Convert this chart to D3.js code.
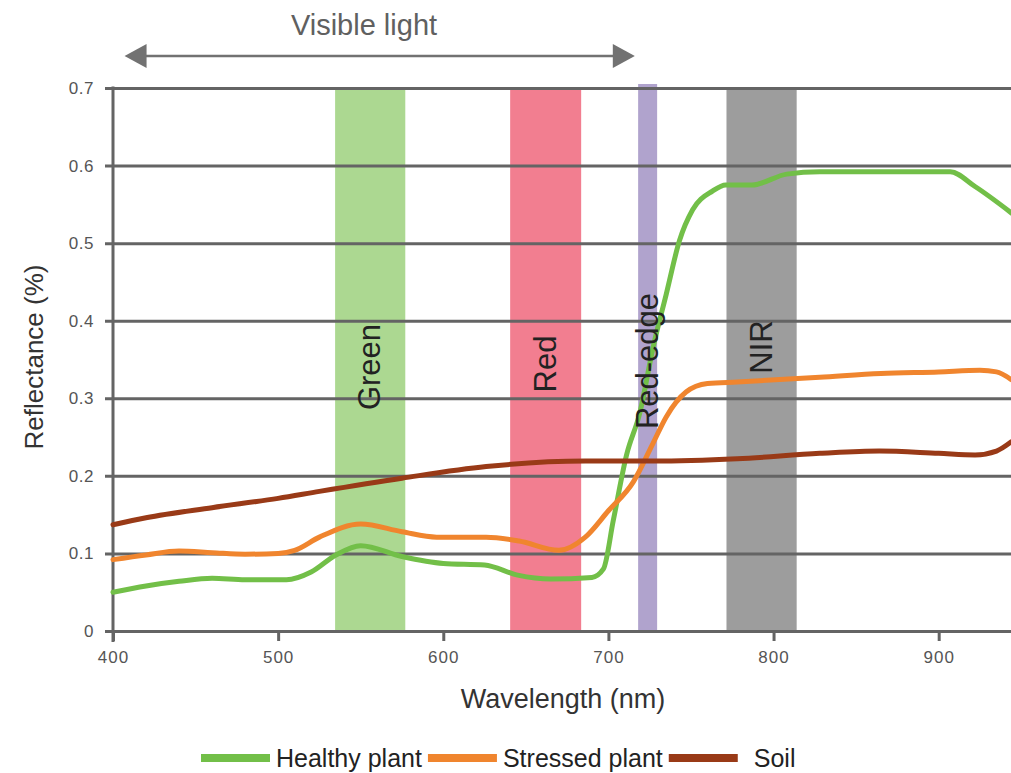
<!DOCTYPE html>
<html>
<head>
<meta charset="utf-8">
<script src="https://cdn.jsdelivr.net/npm/d3@7"></script>
<style>
  html, body { margin: 0; padding: 0; background: #fff; }
  svg { display: block; font-family: "Liberation Sans", Arial, sans-serif; }
</style>
</head>
<body>
<svg id="chart" width="1011" height="773"></svg>
<script>
// reflectance curves, [wavelength nm, reflectance]
const healthy = [
  [400, 0.050], [420, 0.058], [440, 0.064], [460, 0.068], [480, 0.066], [505, 0.066],
  [520, 0.076], [535, 0.098], [550, 0.110], [575, 0.096], [600, 0.087], [625, 0.085],
  [645, 0.072], [665, 0.067], [690, 0.069], [697, 0.080], [703, 0.143], [711, 0.227],
  [719, 0.281], [727, 0.365], [735, 0.434], [743, 0.503], [751, 0.543], [763, 0.567],
  [771, 0.575], [787, 0.575], [808, 0.589], [828, 0.592], [880, 0.592], [907, 0.592],
  [922, 0.573], [944, 0.539]
];
const stressed = [
  [400, 0.092], [420, 0.098], [440, 0.103], [460, 0.101], [480, 0.099], [500, 0.100],
  [510, 0.104], [525, 0.121], [550, 0.138], [575, 0.128], [596, 0.121], [626, 0.121],
  [646, 0.116], [670, 0.104], [686, 0.121], [700, 0.155], [715, 0.192], [727, 0.242],
  [735, 0.276], [747, 0.308], [760, 0.319], [778, 0.321], [828, 0.327], [865, 0.332],
  [900, 0.334], [925, 0.336], [935, 0.334], [944, 0.324]
];
const soil = [
  [400, 0.137], [420, 0.146], [460, 0.159], [500, 0.171], [525, 0.180], [575, 0.197],
  [626, 0.212], [686, 0.219], [727, 0.219], [778, 0.222], [828, 0.229], [864, 0.232],
  [900, 0.229], [922, 0.227], [935, 0.232], [944, 0.244]
];

// spectral bands [name, from nm, to nm]
const bands = [
  ["Green", 534.5, 577],
  ["Red", 640.5, 683.5],
  ["Red-edge", 718, 729.5],
  ["NIR", 771.5, 814]
];

const xTicks = [400, 500, 600, 700, 800, 900];
const yTicks = [0, 0.1, 0.2, 0.3, 0.4, 0.5, 0.6, 0.7];
const visibleRange = [407, 716];

const series = [
  { name: "Healthy plant", values: healthy, color: "#72bf48" },
  { name: "Stressed plant", values: stressed, color: "#f0852e" },
  { name: "Soil", values: soil, color: "#993a17" }
];

const bandColor = { "Green": "#acd891", "Red": "#f27e90", "Red-edge": "#b0a3cd", "NIR": "#9d9d9d" };
// where each band label sits along the band (in px from plot top)
const bandLabelY = { "Green": 367, "Red": 364, "Red-edge": 361, "NIR": 347 };

const svg = d3.select("#chart");

const x = d3.scaleLinear().domain([400, 945]).range([113, 1013]);
const y = d3.scaleLinear().domain([0, 0.7]).range([631, 88]);

// bands
svg.append("g").selectAll("rect")
  .data(bands)
  .join("rect")
  .attr("x", d => x(d[1]))
  .attr("width", d => x(d[2]) - x(d[1]))
  .attr("y", d => d[0] === "Red-edge" ? y(0.7) - 4 : y(0.7))
  .attr("height", d => d[0] === "Red-edge" ? y(0) - y(0.7) + 4 : y(0) - y(0.7))
  .attr("fill", d => bandColor[d[0]]);

// horizontal grid + y ticks
const yAxis = svg.append("g")
  .attr("transform", `translate(${x.range()[0]},0)`)
  .call(d3.axisLeft(y).tickValues(yTicks)
    .tickSize(-(1013 - 113)).tickSizeOuter(0)
    .tickFormat(d => d === 0 ? "0" : d.toFixed(1)))
  .call(g => g.select(".domain").remove());
yAxis.selectAll(".tick line")
  .attr("x1", -8)
  .attr("stroke", "#646464")
  .attr("stroke-width", 3);
yAxis.selectAll(".tick text")
  .attr("x", -19)
  .attr("fill", "#555")
  .attr("font-size", 17)
  .attr("letter-spacing", 0.5);

// y axis line
svg.append("line")
  .attr("x1", 113).attr("x2", 113)
  .attr("y1", y(0.7) - 1.5).attr("y2", y(0) + 11)
  .attr("stroke", "#646464").attr("stroke-width", 3);

// x ticks
const xAxis = svg.append("g")
  .attr("transform", `translate(0,${y(0)})`)
  .call(d3.axisBottom(x).tickValues(xTicks).tickSize(10).tickSizeOuter(0))
  .call(g => g.select(".domain").remove());
xAxis.selectAll(".tick line")
  .attr("stroke", "#646464")
  .attr("stroke-width", 3);
xAxis.selectAll(".tick text")
  .attr("y", 20)
  .attr("fill", "#555")
  .attr("font-size", 17)
  .attr("letter-spacing", 1);

// curves
const line = d3.line()
  .x(d => x(d[0]))
  .y(d => y(d[1]))
  .curve(d3.curveMonotoneX);

svg.append("g").selectAll("path")
  .data(series)
  .join("path")
  .attr("d", d => line(d.values))
  .attr("fill", "none")
  .attr("stroke", d => d.color)
  .attr("stroke-width", 5)
  .attr("stroke-linejoin", "round")
  .attr("stroke-linecap", "round");

// band labels
svg.append("g").selectAll("text")
  .data(bands)
  .join("text")
  .attr("transform", d => `translate(${x((d[1] + d[2]) / 2) + 10},${bandLabelY[d[0]]}) rotate(-90)`)
  .attr("text-anchor", "middle")
  .attr("font-size", 31)
  .attr("fill", "#222")
  .text(d => d[0]);

// visible light arrow
const arrowY = 56;
const ax0 = x(visibleRange[0]), ax1 = x(visibleRange[1]);
svg.append("line")
  .attr("x1", ax0 + 10).attr("x2", ax1 - 10)
  .attr("y1", arrowY).attr("y2", arrowY)
  .attr("stroke", "#727272").attr("stroke-width", 2.5);
svg.append("path")
  .attr("d", `M${ax0},${arrowY} L${ax0 + 22},${arrowY - 12} L${ax0 + 22},${arrowY + 12} Z`)
  .attr("fill", "#727272");
svg.append("path")
  .attr("d", `M${ax1},${arrowY} L${ax1 - 22},${arrowY - 12} L${ax1 - 22},${arrowY + 12} Z`)
  .attr("fill", "#727272");
svg.append("text")
  .attr("x", 364).attr("y", 35)
  .attr("text-anchor", "middle")
  .attr("font-size", 29)
  .attr("fill", "#606060")
  .text("Visible light");

// axis titles
svg.append("text")
  .attr("transform", "translate(43,357) rotate(-90)")
  .attr("text-anchor", "middle")
  .attr("font-size", 26)
  .attr("fill", "#333")
  .text("Reflectance (%)");
svg.append("text")
  .attr("x", 563).attr("y", 708)
  .attr("text-anchor", "middle")
  .attr("font-size", 27)
  .attr("fill", "#333")
  .text("Wavelength (nm)");

// legend
const legend = svg.append("g").attr("transform", "translate(201,758)");
let lx = 0;
series.forEach(s => {
  legend.append("line")
    .attr("x1", lx).attr("x2", lx + 69)
    .attr("y1", 0).attr("y2", 0)
    .attr("stroke", s.color).attr("stroke-width", 8);
  lx += 69 + (s.name === "Soil" ? 16 : 6);
  const t = legend.append("text")
    .attr("x", lx).attr("y", 9)
    .attr("font-size", 25)
    .attr("fill", "#222")
    .text(s.name);
  lx += t.node().getComputedTextLength() + 6;
});
</script>
</body>
</html>
